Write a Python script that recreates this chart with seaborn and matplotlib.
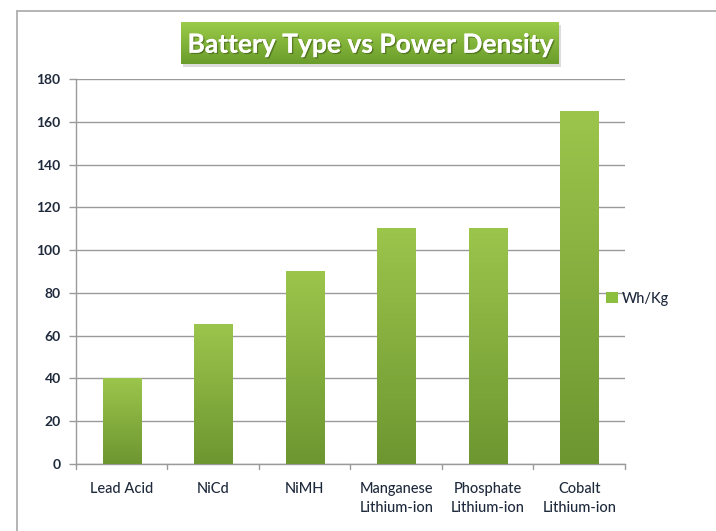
import numpy as np
import pandas as pd
import matplotlib
matplotlib.use("Agg")
import matplotlib.pyplot as plt
import matplotlib.patheffects as pe
from matplotlib.colors import LinearSegmentedColormap
from matplotlib.lines import Line2D
from matplotlib.patches import Patch
import seaborn as sns

battery_types = ["Lead Acid", "NiCd", "NiMH", "Manganese\nLithium-ion",
                 "Phosphate\nLithium-ion", "Cobalt\nLithium-ion"]
wh_per_kg = [40, 65, 90, 110, 110, 165]
y_ticks = [0, 20, 40, 60, 80, 100, 120, 140, 160, 180]
title = "Battery Type vs Power Density"
series_name = "Wh/Kg"

df = pd.DataFrame({"type": battery_types, "value": wh_per_kg})

sns.set_theme(style="white")
plt.rcParams["font.family"] = ["Lato", "DejaVu Sans"]

fig = plt.figure(figsize=(7.16, 5.31), dpi=100)
ax = fig.add_axes([0.1061, 0.1262, 0.7668, 0.725])

bar_green = "#85b23c"
sns.barplot(data=df, x="type", y="value", color=bar_green, width=0.42,
            ax=ax, zorder=3)

# vertical gradient on each bar
bar_cmap = LinearSegmentedColormap.from_list("bar", ["#6d9631", "#9cc54c"])
grad = np.linspace(0, 1, 256).reshape(-1, 1)
for p in ax.patches:
    x0, w, h = p.get_x(), p.get_width(), p.get_height()
    ax.imshow(grad, cmap=bar_cmap, origin="lower", aspect="auto",
              extent=(x0, x0 + w, 0, h), zorder=3, interpolation="bicubic")
    p.set_visible(False)

ax.set_xlim(-0.5, len(battery_types) - 0.5)
ax.set_ylim(0, 180)
ax.set_yticks(y_ticks)
ax.yaxis.grid(True, color="#9a9a9a", linewidth=1.0, zorder=0)
ax.set_axisbelow(True)

label_color = "#1f2a3c"
ax.set_xticks(range(len(battery_types)))
ax.set_xticklabels(battery_types, fontsize=10.5, color=label_color,
                   linespacing=1.45)
ax.tick_params(axis="x", length=0, pad=13)
ax.tick_params(axis="y", length=5, width=1, color="#9a9a9a",
               labelsize=10, labelcolor=label_color, pad=6, left=True)
# category boundary ticks on x axis
for b in np.arange(-0.5, len(battery_types), 1.0):
    ax.plot([b, b], [0, -2.3], color="#9a9a9a", lw=1, clip_on=False, zorder=4)
for lbl in ax.get_yticklabels():
    lbl.set_fontweight("bold")
for lbl in ax.get_xticklabels():
    lbl.set_fontweight("medium")

ax.set_xlabel("")
ax.set_ylabel("")
for side in ["top", "right"]:
    ax.spines[side].set_visible(False)
for side in ["left", "bottom"]:
    ax.spines[side].set_color("#9a9a9a")
    ax.spines[side].set_linewidth(1.0)

# legend
handles = [Patch(facecolor="#8dbf3f", edgecolor="none", label=series_name)]
leg = fig.legend(handles=handles, loc="center left",
                 bbox_to_anchor=(0.828, 0.437), frameon=False,
                 handlelength=0.8, handleheight=0.8, handletextpad=0.3,
                 prop={"size": 10.5})
for t in leg.get_texts():
    t.set_color(label_color)
    t.set_fontweight("medium")

# title box with gradient and soft shadow
bx, by, bw, bh = 181 / 716, 1 - 64 / 531, (559 - 181) / 716, 42 / 531
sax = fig.add_axes([bx + 2 / 716, by - 3 / 531, bw, bh])
sax.set_facecolor("#dcdcdc")
for s in sax.spines.values():
    s.set_visible(False)
sax.set_xticks([])
sax.set_yticks([])
tax = fig.add_axes([bx, by, bw, bh])
title_cmap = LinearSegmentedColormap.from_list("title", ["#6a9c2c", "#9bcb48"])
tax.imshow(grad, cmap=title_cmap, origin="lower", aspect="auto",
           extent=(0, 1, 0, 1), interpolation="bicubic")
tax.set_xlim(0, 1)
tax.set_ylim(0, 1)
tax.axis("off")
tax.text(0.5, 0.46, title, ha="center", va="center", color="white",
         fontsize=19, fontweight="bold",
         path_effects=[pe.withSimplePatchShadow(offset=(1, -1),
                                                 shadow_rgbFace="#3d5a18",
                                                 alpha=0.6),
                       pe.Normal()])

# sheet frame lines
fig.add_artist(Line2D([17 / 716, 1], [1 - 11 / 531, 1 - 11 / 531],
                      transform=fig.transFigure, color="#a8a8a8", lw=1.2))
fig.add_artist(Line2D([17 / 716, 17 / 716], [0, 1 - 11 / 531],
                      transform=fig.transFigure, color="#a8a8a8", lw=1.2))

fig.savefig("out.png", dpi=100)
